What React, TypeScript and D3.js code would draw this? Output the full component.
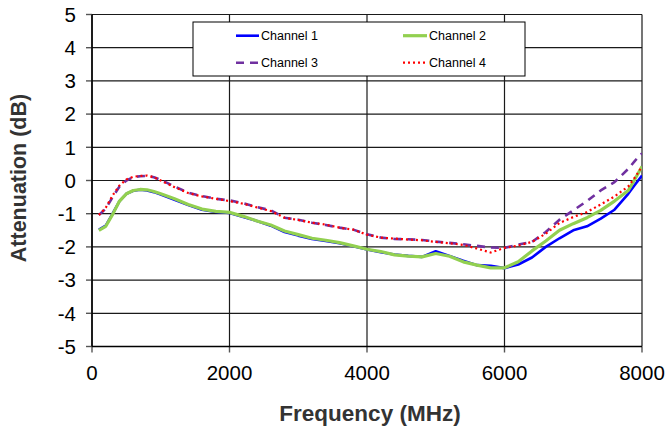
import React from "react";
import * as d3 from "d3";

const freqs = [100, 200, 300, 400, 500, 600, 700, 800, 900, 1000, 1200, 1400, 1600, 1800, 2000, 2200, 2400, 2600, 2800, 3000, 3200, 3400, 3600, 3800, 4000, 4200, 4400, 4600, 4800, 5000, 5200, 5400, 5600, 5800, 6000, 6200, 6400, 6600, 6800, 7000, 7200, 7400, 7600, 7800, 7900, 8000];

const channel1 = [-1.48, -1.36, -1.0, -0.62, -0.4, -0.31, -0.28, -0.3, -0.35, -0.42, -0.58, -0.74, -0.88, -0.95, -0.98, -1.1, -1.22, -1.36, -1.55, -1.66, -1.76, -1.82, -1.89, -1.98, -2.08, -2.16, -2.23, -2.27, -2.3, -2.13, -2.27, -2.42, -2.55, -2.57, -2.64, -2.53, -2.32, -2.0, -1.74, -1.5, -1.38, -1.15, -0.88, -0.4, -0.12, 0.15];

const channel2 = [-1.5, -1.38, -1.02, -0.62, -0.4, -0.3, -0.27, -0.28, -0.33, -0.4, -0.55, -0.72, -0.86, -0.93, -0.96, -1.08, -1.22, -1.34, -1.52, -1.63, -1.74, -1.8, -1.87, -1.97, -2.07, -2.14, -2.24, -2.28, -2.3, -2.2, -2.28, -2.45, -2.55, -2.63, -2.63, -2.45, -2.12, -1.82, -1.5, -1.3, -1.12, -0.9, -0.62, -0.3, 0.05, 0.42];

const channel3 = [-1.04, -0.85, -0.5, -0.18, 0.0, 0.1, 0.13, 0.14, 0.1, 0.02, -0.18, -0.37, -0.47, -0.55, -0.6, -0.68, -0.8, -0.9, -1.12, -1.18, -1.27, -1.34, -1.42, -1.48, -1.62, -1.72, -1.76, -1.77, -1.79, -1.84, -1.88, -1.92, -1.97, -2.02, -2.03, -1.93, -1.85, -1.55, -1.18, -0.9, -0.62, -0.3, -0.05, 0.35, 0.6, 0.82];

const channel4 = [-1.04, -0.82, -0.45, -0.15, 0.03, 0.11, 0.14, 0.15, 0.1, 0.0, -0.2, -0.38, -0.48, -0.55, -0.62, -0.7, -0.81, -0.92, -1.12, -1.19, -1.27, -1.33, -1.42, -1.48, -1.63, -1.72, -1.75, -1.78, -1.8, -1.85, -1.89, -1.94, -2.05, -2.17, -2.03, -1.96, -1.85, -1.6, -1.28, -1.1, -0.95, -0.72, -0.48, -0.18, 0.1, 0.42];

const seriesNames = ["Channel 1", "Channel 2", "Channel 3", "Channel 4"];
const xTicks = [0, 2000, 4000, 6000, 8000];
const yTicks = [-5, -4, -3, -2, -1, 0, 1, 2, 3, 4, 5];

const W = 666;
const H = 427;
const L = 92, R = 642, T = 14.5, B = 346.5;

const styles = [
  { color: "#0000FF", width: 2.6, dash: "" },
  { color: "#92D050", width: 3.2, dash: "" },
  { color: "#7030A0", width: 2.6, dash: "8,6" },
  { color: "#FF0000", width: 2.2, dash: "2,3" },
];

export default function App() {
  const x = d3.scaleLinear().domain([0, 8000]).range([L, R]);
  const y = d3.scaleLinear().domain([-5, 5]).range([B, T]);
  const data = [channel1, channel2, channel3, channel4];
  const line = d3
    .line<number>()
    .x((_, i) => x(freqs[i]))
    .y((d) => y(d));
  const font = "'Liberation Sans', Arial, sans-serif";

  const legendPos = [
    { x1: 236, x2: 259, y: 35.7 },
    { x1: 403, x2: 427, y: 35.7 },
    { x1: 236, x2: 259, y: 62.7 },
    { x1: 403, x2: 427, y: 62.7 },
  ];

  return (
    <svg width={W} height={H} style={{ position: "absolute", left: 0, top: 0 }} fontFamily={font}>
      <rect width={W} height={H} fill="#fff" />
      {yTicks.map((t) => (
        <line key={"gy" + t} x1={L} x2={R} y1={y(t)} y2={y(t)} stroke="#1a1a1a" strokeWidth={1.2} />
      ))}
      {xTicks.map((t) => (
        <line key={"gx" + t} x1={x(t)} x2={x(t)} y1={T} y2={B} stroke="#1a1a1a" strokeWidth={1.2} />
      ))}
      {yTicks.map((t) => (
        <g key={"ty" + t}>
          <line x1={L - 6} x2={L} y1={y(t)} y2={y(t)} stroke="#555" strokeWidth={1.4} />
          <text x={76} y={y(t)} dy="0.36em" textAnchor="end" fontSize={20.5} fill="#000">
            {t}
          </text>
        </g>
      ))}
      {xTicks.map((t) => (
        <g key={"tx" + t}>
          <line x1={x(t)} x2={x(t)} y1={B} y2={B + 6} stroke="#555" strokeWidth={1.4} />
          <text x={x(t)} y={380} textAnchor="middle" fontSize={20.5} fill="#000">
            {t}
          </text>
        </g>
      ))}
      <line x1={L} x2={L} y1={T} y2={B} stroke="#000" strokeWidth={1.5} />
      <line x1={L} x2={R} y1={B} y2={B} stroke="#000" strokeWidth={1.5} />
      <defs>
        <clipPath id="plotclip">
          <rect x={L} y={T} width={R - L} height={B - T} />
        </clipPath>
      </defs>
      <g clipPath="url(#plotclip)">
        {data.map((s, i) => (
          <path
            key={seriesNames[i]}
            d={line(s) || ""}
            fill="none"
            stroke={styles[i].color}
            strokeWidth={styles[i].width}
            strokeDasharray={styles[i].dash}
            strokeLinejoin="round"
          />
        ))}
      </g>
      <rect x={193} y={22} width={332} height={54} fill="#fff" stroke="#000" strokeWidth={1} />
      {seriesNames.map((n, i) => (
        <g key={"lg" + n}>
          <line
            x1={legendPos[i].x1}
            x2={legendPos[i].x2}
            y1={legendPos[i].y}
            y2={legendPos[i].y}
            stroke={styles[i].color}
            strokeWidth={styles[i].width}
            strokeDasharray={styles[i].dash}
          />
          <text x={legendPos[i].x2 + 2} y={legendPos[i].y} dy="0.36em" fontSize={12.5} fill="#000">
            {n}
          </text>
        </g>
      ))}
      <text x={370} y={421} textAnchor="middle" fontSize={22.5} fontWeight="bold" fill="#333">
        Frequency (MHz)
      </text>
      <text
        transform={`translate(25.5,178) rotate(-90)`}
        textAnchor="middle"
        fontSize={21.5}
        fontWeight="bold"
        fill="#333"
      >
        Attenuation (dB)
      </text>
    </svg>
  );
}
